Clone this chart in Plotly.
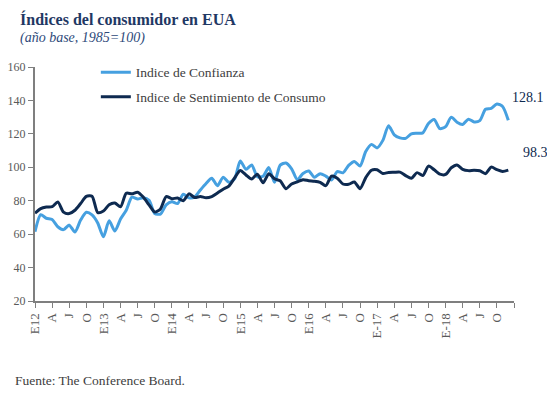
import plotly.graph_objects as go

months = list(range(84))  # Jan 2012 .. Dec 2018

confianza = [
    61.5, 71.6, 69.5, 68.7, 64.4, 62.7, 65.4, 61.3, 68.4, 73.1, 71.5, 66.7,
    58.4, 68.0, 61.9, 69.0, 74.3, 82.1, 81.0, 81.8, 80.2, 72.4, 72.0, 77.5,
    79.4, 78.3, 83.9, 81.7, 82.2, 86.4, 90.3, 93.4, 89.0, 94.1, 91.0, 93.1,
    103.8, 98.8, 101.4, 94.3, 94.6, 99.8, 91.0, 101.3, 102.6, 99.1, 92.6, 96.3,
    97.8, 94.0, 96.2, 94.7, 92.4, 97.4, 96.7, 101.1, 103.5, 100.8, 109.4, 113.7,
    111.6, 116.1, 124.9, 119.4, 117.6, 117.3, 120.0, 120.4, 120.6, 126.2, 128.6, 123.1,
    124.3, 130.0, 127.0, 125.6, 128.8, 127.1, 127.9, 134.7, 135.3, 137.9, 136.4, 128.1,
]

sentimiento = [
    72.5, 75.3, 76.2, 76.4, 79.3, 73.2, 72.3, 74.3, 78.3, 82.6, 82.7, 72.9,
    73.8, 77.6, 78.6, 76.4, 84.5, 84.1, 85.1, 82.1, 77.5, 73.2, 75.1, 82.5,
    81.2, 81.6, 80.0, 84.1, 81.9, 82.5, 81.8, 82.5, 84.6, 86.9, 88.8, 93.6,
    98.1, 95.4, 93.0, 95.9, 90.7, 96.1, 93.1, 91.9, 87.2, 90.0, 91.3, 92.6,
    92.0, 91.7, 91.0, 89.0, 94.7, 93.5, 90.0, 89.8, 91.2, 87.2, 93.8, 98.2,
    98.5, 96.3, 96.9, 97.0, 97.1, 95.0, 93.4, 96.8, 95.1, 100.7, 98.5, 95.9,
    95.7, 99.7, 101.4, 98.8, 98.0, 98.2, 97.9, 96.2, 100.1, 98.6, 97.5, 98.3,
]

tick_vals = list(range(0, 85, 3))
tick_text = ["E12", "A", "J", "O", "E13", "A", "J", "O", "E14", "A", "J", "O",
             "E15", "A", "J", "O", "E16", "A", "J", "O", "E-17", "A", "J", "O",
             "E-18", "A", "J", "O", ""]

LIGHT = "#46a0e0"
DARK = "#0e2a50"
FONT = "Liberation Serif, Times New Roman, serif"
GRAY = "#595959"

fig = go.Figure()
fig.add_trace(go.Scatter(x=months, y=confianza, mode="lines", name="Indice de Confianza",
                         line=dict(color=LIGHT, width=3, shape="spline", smoothing=0.7),
                         legendgroup="a"))
fig.add_trace(go.Scatter(x=months, y=sentimiento, mode="lines",
                         name="Indice de Sentimiento de Consumo",
                         line=dict(color=DARK, width=3, shape="spline", smoothing=0.7),
                         legendgroup="b"))

fig.add_annotation(x=months[-1], y=confianza[-1], text=f"{confianza[-1]:.1f}",
                   showarrow=False, xshift=20, yshift=23,
                   font=dict(family=FONT, size=14, color=DARK))
fig.add_annotation(x=months[-1], y=sentimiento[-1], text=f"{sentimiento[-1]:.1f}",
                   showarrow=False, xshift=27, yshift=18,
                   font=dict(family=FONT, size=14, color=DARK))

fig.add_annotation(xref="paper", yref="paper", x=-0.036, y=1.203, xanchor="left", yanchor="middle",
                   text="<b>Índices del consumidor en EUA</b>", showarrow=False,
                   font=dict(family=FONT, size=16, color="#1f3864"))
fig.add_annotation(xref="paper", yref="paper", x=-0.036, y=1.124, xanchor="left", yanchor="middle",
                   text="<i>(año base, 1985=100)</i>", showarrow=False,
                   font=dict(family=FONT, size=14, color="#2e4a7a"))
fig.add_annotation(xref="paper", yref="paper", x=-0.046, y=-0.338, xanchor="left", yanchor="middle",
                   text="Fuente: The Conference Board.", showarrow=False,
                   font=dict(family=FONT, size=13.5, color="#404040"))

# page body has an 8px default margin: figure is sized/offset to compensate
fig.update_layout(
    width=547, height=387,
    margin=dict(l=27, r=41, t=59, b=94, autoexpand=False),
    paper_bgcolor="white", plot_bgcolor="white",
    font=dict(family=FONT, size=13, color=GRAY),
    showlegend=True,
    legend=dict(x=0.127, y=1.043, xanchor="left", yanchor="top",
                font=dict(family=FONT, size=13.5, color="#404040"),
                bgcolor="rgba(0,0,0,0)", tracegroupgap=4, itemwidth=30),
    xaxis=dict(range=[0, 84], tickmode="array", tickvals=tick_vals, ticktext=tick_text,
               tickangle=-90, ticks="outside", ticklen=5, tickcolor="#7f7f7f",
               showline=True, linecolor="#7f7f7f", linewidth=2, showgrid=False,
               zeroline=False, automargin=False,
               tickfont=dict(family=FONT, size=13, color=GRAY)),
    yaxis=dict(range=[20, 160], dtick=20, ticks="outside", ticklen=5, tickcolor="#7f7f7f",
               showline=True, linecolor="#7f7f7f", linewidth=2, showgrid=False,
               zeroline=False, automargin=False,
               tickfont=dict(family=FONT, size=12, color=GRAY)),
)

fig.write_html("out.html")
